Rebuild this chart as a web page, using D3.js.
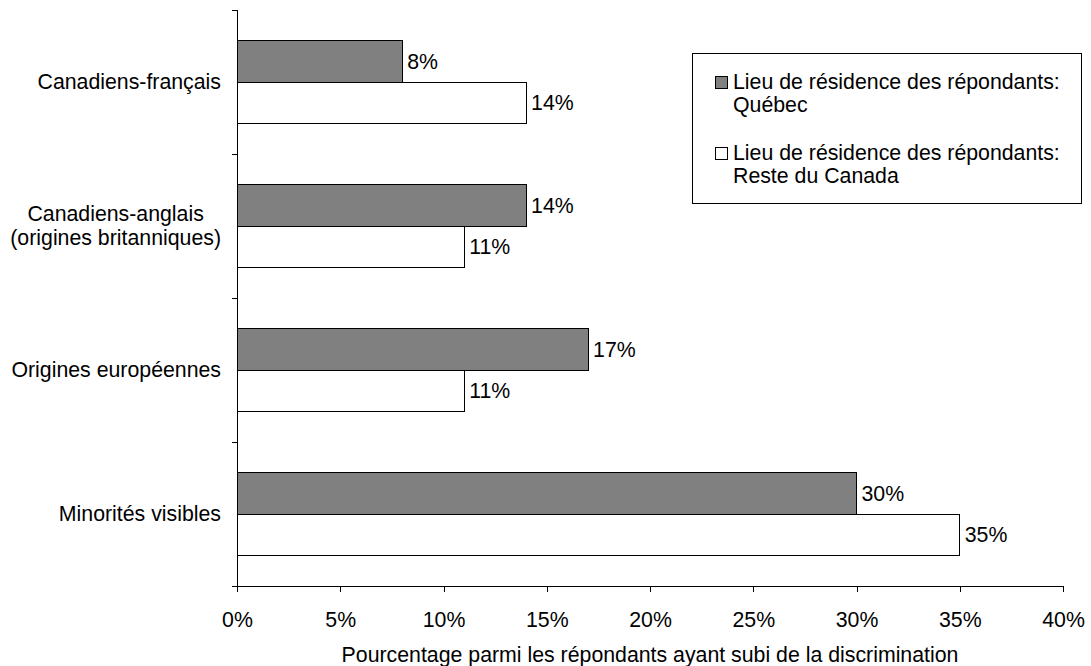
<!DOCTYPE html>
<html>
<head>
<meta charset="utf-8">
<script src="https://cdn.jsdelivr.net/npm/d3@7"></script>
<style>
  html, body { margin: 0; padding: 0; background: #fff; }
  svg { display: block; font-family: "Liberation Sans", Arial, sans-serif; }
</style>
</head>
<body>
<svg id="chart" width="1091" height="666"></svg>
<script>
// Groupes d'origine (axe vertical)
const categories = [
  ["Canadiens-français"],
  ["Canadiens-anglais", "(origines britanniques)"],
  ["Origines européennes"],
  ["Minorités visibles"]
];
const categoryKeys = ["cf", "ca", "eu", "mv"];

// Pourcentages par lieu de résidence
const quebecValues = [8, 14, 17, 30];
const resteValues = [14, 11, 11, 35];

const seriesNames = [
  ["Lieu de résidence des répondants:", "Québec"],
  ["Lieu de résidence des répondants:", "Reste du Canada"]
];
const seriesColors = ["#808080", "#ffffff"];

const xTicks = [0, 5, 10, 15, 20, 25, 30, 35, 40];
const xTitle = "Pourcentage parmi les répondants ayant subi de la discrimination";

const FS = 21.3;
const svg = d3.select("#chart");
const plot = { left: 237, right: 1063, top: 10, bottom: 586 };

const x = d3.scaleLinear().domain([0, 40]).range([plot.left, plot.right]);
const y = d3.scaleBand().domain(categoryKeys).range([plot.top, plot.bottom]).paddingInner(0.43).paddingOuter(0.215);
const sub = d3.scaleBand().domain([0, 1]).range([0, y.bandwidth()]);

const series = [quebecValues, resteValues];

// Barres et étiquettes de valeur
series.forEach((vals, s) => {
  const g = svg.append("g");
  g.selectAll("rect").data(vals).join("rect")
    .attr("x", x(0))
    .attr("y", (d, i) => y(categoryKeys[i]) + sub(s))
    .attr("width", d => x(d) - x(0))
    .attr("height", sub.bandwidth())
    .attr("fill", seriesColors[s])
    .attr("stroke", "#000")
    .attr("stroke-width", 1)
    .attr("shape-rendering", "crispEdges");
  g.selectAll("text").data(vals).join("text")
    .attr("x", d => x(d) + 5)
    .attr("y", (d, i) => y(categoryKeys[i]) + sub(s) + sub.bandwidth() / 2)
    .attr("dy", "0.35em")
    .attr("font-size", FS)
    .attr("fill", "#000")
    .text(d => d + "%");
});

// Axe horizontal
const xAxis = svg.append("g")
  .attr("transform", `translate(0,${plot.bottom})`)
  .call(d3.axisBottom(x).tickValues(xTicks).tickFormat(d => d + "%").tickSize(6).tickSizeOuter(0).tickPadding(20));
xAxis.select(".domain").attr("stroke", "#000").attr("shape-rendering", "crispEdges");
xAxis.selectAll(".tick line").attr("stroke", "#000").attr("shape-rendering", "crispEdges");
xAxis.selectAll("text").attr("font-size", FS).attr("font-family", "Liberation Sans, Arial, sans-serif").attr("fill", "#000");

// Axe vertical : ligne et graduations entre les groupes
svg.append("line")
  .attr("x1", plot.left).attr("x2", plot.left).attr("y1", plot.top).attr("y2", plot.bottom)
  .attr("stroke", "#000").attr("shape-rendering", "crispEdges");
const step = (plot.bottom - plot.top) / categoryKeys.length;
const yTickPos = d3.range(categoryKeys.length + 1).map(i => plot.top + i * step);
svg.selectAll(".ytick").data(yTickPos).join("line")
  .attr("class", "ytick")
  .attr("x1", plot.left - 5).attr("x2", plot.left)
  .attr("y1", d => d).attr("y2", d => d)
  .attr("stroke", "#000").attr("shape-rendering", "crispEdges");

// Libellés des groupes : bloc aligné à droite, lignes centrées entre elles
const labelRight = 221;
categories.forEach((lines, i) => {
  const cy = y(categoryKeys[i]) + y.bandwidth() / 2;
  const lh = 24;
  const t = svg.append("text")
    .attr("text-anchor", "middle")
    .attr("font-size", FS)
    .attr("fill", "#000");
  const spans = lines.map((ln, j) =>
    t.append("tspan")
      .attr("y", cy + (j - (lines.length - 1) / 2) * lh)
      .attr("dy", "0.35em")
      .text(ln));
  const maxW = d3.max(spans, sp => sp.node().getComputedTextLength());
  spans.forEach(sp => sp.attr("x", labelRight - maxW / 2));
});

// Titre de l'axe horizontal
svg.append("text")
  .attr("x", (plot.left + plot.right) / 2)
  .attr("y", 655)
  .attr("dy", "0.35em")
  .attr("text-anchor", "middle")
  .attr("font-size", FS)
  .attr("fill", "#000")
  .text(xTitle);

// Légende
const legend = svg.append("g");
legend.append("rect")
  .attr("x", 692).attr("y", 53).attr("width", 389).attr("height", 150)
  .attr("fill", "#fff").attr("stroke", "#000").attr("shape-rendering", "crispEdges");
const entryY = [82, 153];
seriesNames.forEach((lines, s) => {
  legend.append("rect")
    .attr("x", 715).attr("y", entryY[s] - 6).attr("width", 12).attr("height", 12)
    .attr("fill", seriesColors[s]).attr("stroke", "#000").attr("shape-rendering", "crispEdges");
  lines.forEach((ln, j) => {
    legend.append("text")
      .attr("x", 733)
      .attr("y", entryY[s] + j * 22.5)
      .attr("dy", "0.35em")
      .attr("font-size", FS)
      .attr("fill", "#000")
      .text(ln);
  });
});
</script>
</body>
</html>
